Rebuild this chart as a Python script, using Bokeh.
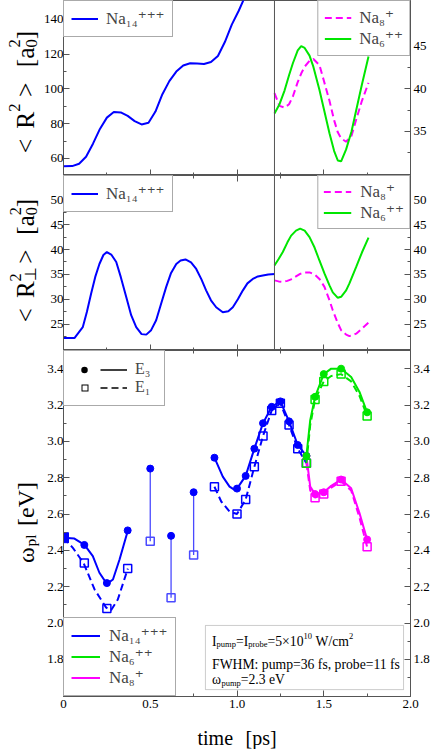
import numpy as np
from bokeh.plotting import figure
from bokeh.layouts import column, row
from bokeh.models import (Range1d, LinearAxis, FixedTicker, Span, Legend, LegendItem,
                          Label, BoxAnnotation, PrintfTickFormatter, CustomLabelingPolicy)
from bokeh.embed import file_html
from bokeh.resources import INLINE

FONT = "Liberation Serif"
LFONT = "Liberation Serif, DejaVu Serif"
FRAME = "#555555"
BLUE = "#0000ff"
GREEN = "#00e600"
MAGENTA = "#ff00ff"
STEM = "#4a4aff"

# ---------------- shared time axis ----------------
x_ticks = [0, 0.5, 1.0, 1.5, 2.0]
x_minor = [0.25, 0.75, 1.25, 1.75]
t_split = 1.216   # fission instant marked in the two upper panels

# ---------------- panel 1 : <R^2> ----------------
t_na14_r2 = [0, 0.05, 0.09, 0.13, 0.17, 0.21, 0.25, 0.29, 0.33, 0.37, 0.41, 0.45, 0.49,
             0.53, 0.57, 0.61, 0.65, 0.69, 0.73, 0.77, 0.81, 0.85, 0.89, 0.93, 0.97, 1.01, 1.05]
r2_na14 = [55.5, 55.6, 57.0, 61.0, 68.5, 77.0, 83.5, 86.7, 86.5, 84.5, 81.5, 79.6, 80.5,
           87.0, 97.0, 104.5, 110.0, 113.5, 114.8, 114.6, 114.4, 115.5, 119.0, 127.0, 137.0, 145.0, 154.0]
t_frag_r2 = [1.216, 1.245, 1.274, 1.30, 1.322, 1.35, 1.37, 1.39, 1.418, 1.44, 1.475, 1.50,
             1.533, 1.56, 1.581, 1.60, 1.629, 1.66, 1.687, 1.72, 1.758]
r2_na6 = [37.1, 38.2, 39.8, 41.6, 43.0, 44.5, 45.0, 44.8, 43.9, 42.6, 39.9, 37.7,
          34.8, 32.7, 31.6, 31.5, 32.9, 35.0, 37.5, 40.5, 43.8]
r2_na8 = [39.5, 38.0, 37.8, 38.2, 39.1, 40.8, 41.8, 42.6, 43.3, 43.5, 42.8, 41.0,
          38.6, 36.3, 34.9, 34.2, 33.8, 34.5, 36.4, 38.6, 40.7]
r2_left_ticks = [60, 80, 100, 120, 140]
r2_left_minor = [70, 90, 110, 130, 150]
r2_right_ticks = [35, 40, 45]
r2_right_minor = [32.5, 37.5, 42.5, 47.5]

# ---------------- panel 2 : <R_perp^2> ----------------
t_na14_rp = [0, 0.063, 0.111, 0.135, 0.159, 0.183, 0.207, 0.23, 0.25, 0.275, 0.304, 0.33,
             0.362, 0.39, 0.419, 0.45, 0.477, 0.505, 0.534, 0.56, 0.592, 0.62, 0.65, 0.675,
             0.703, 0.735, 0.765, 0.795, 0.822, 0.85, 0.88, 0.918, 0.95, 0.976, 1.005, 1.034,
             1.06, 1.091, 1.12, 1.149, 1.18, 1.218]
rp_na14 = [22.2, 22.2, 24.4, 27.5, 31.1, 34.5, 37.1, 38.9, 39.5, 39.0, 37.5, 34.5,
           30.4, 26.8, 24.4, 23.0, 22.9, 23.8, 25.8, 28.8, 32.5, 35.3, 37.1, 37.8,
           38.0, 37.4, 36.1, 34.0, 31.8, 29.8, 28.4, 27.4, 27.6, 28.4, 30.0, 31.8,
           33.2, 34.1, 34.6, 34.8, 35.0, 35.1]
t_frag_rp = [1.216, 1.24, 1.264, 1.29, 1.312, 1.34, 1.364, 1.39, 1.418, 1.447, 1.475, 1.504,
             1.533, 1.552, 1.581, 1.60, 1.629, 1.648, 1.687, 1.72, 1.758]
rp_na6 = [36.8, 38.1, 39.5, 41.4, 42.8, 43.8, 44.2, 43.8, 42.5, 40.4, 37.8, 35.2,
          32.8, 31.4, 30.3, 30.5, 31.8, 33.2, 36.5, 39.4, 42.4]
rp_na8 = [33.8, 33.6, 33.5, 33.7, 34.0, 34.6, 35.1, 35.4, 35.4, 35.0, 34.1, 32.5,
          29.8, 27.8, 25.2, 23.8, 22.9, 22.6, 23.1, 24.1, 25.3]
rp_ticks = [25, 30, 35, 40, 45, 50]
rp_minor = [22.5, 27.5, 32.5, 37.5, 42.5, 47.5, 52.5]

# ---------------- panel 3 : plasmon energies ----------------
w_ticks = [1.8, 2.0, 2.2, 2.4, 2.6, 2.8, 3.0, 3.2, 3.4]
w_minor = [1.7, 1.9, 2.1, 2.3, 2.5, 2.7, 2.9, 3.1, 3.3]

# Na14+++ first interval
t1 = [0.0, 0.12, 0.25, 0.37]
e3_1 = [2.47, 2.43, 2.22, 2.51]
e1_1 = [2.47, 2.33, 2.08, 2.30]
t1_fit_e3 = [0.0, 0.063, 0.121, 0.169, 0.207, 0.25, 0.285, 0.323, 0.371]
fit_e3_1 = [2.47, 2.465, 2.43, 2.368, 2.277, 2.216, 2.240, 2.350, 2.51]
t1_fit_e1 = [0.0, 0.054, 0.117, 0.179, 0.246, 0.275, 0.313, 0.371]
fit_e1_1 = [2.47, 2.414, 2.328, 2.185, 2.085, 2.072, 2.130, 2.30]

# isolated probes
t_single = [0.50, 0.62, 0.75]
e3_single = [2.85, 2.48, 2.72]
e1_single = [2.45, 2.14, 2.375]

# Na14+++ second interval
t2 = [0.87, 1.00, 1.05, 1.10, 1.15, 1.20, 1.25, 1.30, 1.35, 1.40]
e3_2 = [2.91, 2.74, 2.81, 2.96, 3.10, 3.19, 3.22, 3.11, 2.98, 2.92]
e1_2 = [2.75, 2.60, 2.68, 2.86, 3.03, 3.17, 3.21, 3.09, 2.96, 2.88]
t2_fit_e3 = [0.87, 0.918, 0.957, 0.986, 1.00, 1.05, 1.10, 1.15, 1.20, 1.25, 1.30, 1.35, 1.40]
fit_e3_2 = [2.91, 2.806, 2.751, 2.733, 2.74, 2.81, 2.96, 3.10, 3.19, 3.22, 3.11, 2.98, 2.92]
t2_fit_e1 = [0.87, 0.909, 0.957, 1.00, 1.05, 1.10, 1.15, 1.20, 1.25, 1.30, 1.35, 1.40]
fit_e1_2 = [2.75, 2.669, 2.614, 2.60, 2.68, 2.86, 3.03, 3.17, 3.21, 3.09, 2.96, 2.88]

# fragments
t_frag = [1.40, 1.45, 1.50, 1.60, 1.75]
e3_na6 = [2.92, 3.245, 3.37, 3.40, 3.16]
e1_na6 = [2.88, 3.23, 3.33, 3.37, 3.14]
e3_na8 = [2.92, 2.71, 2.72, 2.79, 2.46]
e1_na8 = [2.88, 2.69, 2.71, 2.78, 2.42]
t_frag_fit = [1.40, 1.422, 1.45, 1.50, 1.543, 1.60, 1.658, 1.706, 1.75]
fit_e3_na6 = [2.92, 3.117, 3.245, 3.37, 3.40, 3.40, 3.354, 3.272, 3.16]
fit_e1_na6 = [2.88, 3.09, 3.23, 3.33, 3.36, 3.37, 3.33, 3.25, 3.14]
fit_e3_na8 = [2.92, 2.751, 2.71, 2.72, 2.755, 2.79, 2.742, 2.605, 2.46]
fit_e1_na8 = [2.88, 2.73, 2.69, 2.71, 2.745, 2.78, 2.73, 2.58, 2.42]

LBL_NA14 = "Na₁₄⁺⁺⁺"
LBL_NA6 = "Na₆⁺⁺"
LBL_NA8 = "Na₈⁺"

# ---------------- helpers ----------------
W = {' ': 250, '<': 564, '>': 564, 'R': 667, '[': 333, ']': 333, 'a': 444, 'e': 444,
     'V': 722, 'p': 500, 's': 389, 't': 278, 'i': 278, 'm': 778, 'l': 278, 'u': 500,
     'r': 333, 'o': 500, 'b': 500, '=': 564, '×': 564, 'W': 944, '/': 278, 'c': 444,
     'F': 556, 'H': 722, 'M': 889, ':': 278, ',': 250, '.': 250, 'f': 333, 'I': 333,
     'ω': 686, '⊥': 700}
for d in "0123456789":
    W[d] = 500


def tw(s, size):
    return sum(W.get(ch, 500) for ch in s) * size / 1000.0


def rich_text(p, x, y, pieces, size, angle=0.0, align="left", sub_scale=0.65):
    items = []
    pos = 0.0
    i = 0
    while i < len(pieces):
        txt, kind = pieces[i]
        if kind == "gap":
            pos += txt * size
            i += 1
            continue
        if kind == "n":
            items.append((txt, pos, 0.0, size))
            pos += tw(txt, size)
            i += 1
            continue
        ss = size * sub_scale
        sh = -0.22 * size if kind == "sub" else 0.42 * size
        if kind == "sub" and i + 1 < len(pieces) and pieces[i + 1][1] == "sup":
            t2_ = pieces[i + 1][0]
            items.append((txt, pos, sh, ss))
            items.append((t2_, pos, 0.42 * size, ss))
            pos += max(tw(txt, ss), tw(t2_, ss))
            i += 2
            continue
        items.append((txt, pos, sh, ss))
        pos += tw(txt, ss)
        i += 1
    start = -pos / 2.0 if align == "center" else 0.0
    for txt, ps, sh, sz in items:
        along = start + ps
        if angle == 0:
            xo, yo = along, sh
        else:
            xo, yo = -sh, along
        p.add_layout(Label(x=x, y=y, x_offset=xo, y_offset=yo, text=txt, angle=angle,
                           text_align="left", text_baseline="alphabetic",
                           text_font=FONT, text_font_size=f"{sz:.1f}px", text_color="black"))


def style_axis(ax, labels=True, standoff=3):
    ax.axis_line_color = FRAME
    ax.major_tick_in = 6
    ax.major_tick_out = 0
    ax.minor_tick_in = 3
    ax.minor_tick_out = 0
    ax.major_tick_line_color = FRAME
    ax.minor_tick_line_color = FRAME
    ax.major_label_text_font = FONT
    ax.major_label_text_color = "black"
    if labels:
        ax.major_label_text_font_size = "13px"
        ax.major_label_standoff = standoff
    else:
        ax.major_label_text_font_size = "0px"
        ax.major_label_standoff = 0
        ax.major_label_policy = CustomLabelingPolicy(code="return []")


def add_axis(p, place, ticks, minor, labels=True, range_name="default", fmt=None,
             overrides=None, standoff=3):
    ax = LinearAxis(ticker=FixedTicker(ticks=ticks, minor_ticks=minor))
    if place in ("left", "right"):
        ax.y_range_name = range_name
    style_axis(ax, labels, standoff)
    if fmt:
        ax.formatter = PrintfTickFormatter(format=fmt)
    if overrides:
        ax.major_label_overrides = overrides
    p.add_layout(ax, place)
    return ax


TW = 40          # width of the column that holds the rotated axis titles
PW = 436 - TW    # width of each data figure


def mkfig(height, yr, bbot=0):
    p = figure(width=PW, height=height, x_range=Range1d(0, 2.0), y_range=Range1d(*yr),
               output_backend="svg", toolbar_location=None,
               x_axis_location=None, y_axis_location=None,
               min_border_left=63 - TW, min_border_right=26,
               min_border_top=0, min_border_bottom=bbot)
    p.outline_line_color = FRAME
    p.outline_line_width = 1
    p.grid.visible = False
    p.background_fill_color = "white"
    p.border_fill_color = "white"
    return p


def mk_blank(width, height, xr, yr):
    p = figure(width=width, height=height, x_range=Range1d(*xr), y_range=Range1d(*yr),
               output_backend="svg", toolbar_location=None,
               x_axis_location=None, y_axis_location=None,
               min_border_left=0, min_border_right=0, min_border_top=0, min_border_bottom=0)
    p.outline_line_color = None
    p.grid.visible = False
    p.background_fill_color = "white"
    p.border_fill_color = "white"
    return p


def mk_legend(items, loc, pad, gw, standoff, font="17px", spacing=0, gh=15):
    return Legend(items=items, location=loc, margin=0, padding=pad, spacing=spacing,
                  glyph_width=gw, glyph_height=gh, label_height=gh, label_standoff=standoff,
                  label_text_font=LFONT, label_text_font_size=font,
                  label_text_line_height=1.0,
                  border_line_color=FRAME, border_line_width=1,
                  background_fill_color="white", background_fill_alpha=1.0)


LSO = 0   # standoff of the left tick labels (keeps the frames at x = 63)

# ================= panel 1 =================
p1 = mkfig(175, (50.2, 150.9))
p1.extra_y_ranges = {"r": Range1d(29.84, 50.36)}
add_axis(p1, "left", r2_left_ticks, r2_left_minor, standoff=LSO)
add_axis(p1, "right", r2_right_ticks, r2_right_minor, range_name="r")
add_axis(p1, "below", x_ticks, x_minor, labels=False)
p1.add_layout(Span(location=t_split, dimension="height", line_color=FRAME, line_width=1))
r1a = p1.line(t_na14_r2, r2_na14, line_color=BLUE, line_width=2)
r1b = p1.line(t_frag_r2, r2_na8, line_color=MAGENTA, line_width=2, line_dash="7 4", y_range_name="r")
r1c = p1.line(t_frag_r2, r2_na6, line_color=GREEN, line_width=2, y_range_name="r")
p1.add_layout(mk_legend([LegendItem(label=LBL_NA14, renderers=[r1a])], "top_left", 7, 27, 8))
p1.add_layout(mk_legend([LegendItem(label=LBL_NA8, renderers=[r1b]),
                         LegendItem(label=LBL_NA6, renderers=[r1c])], "top_right", 6, 27, 8))

# ================= panel 2 =================
p2 = mkfig(175, (19.71, 54.88))
add_axis(p2, "left", rp_ticks, rp_minor, standoff=LSO)
add_axis(p2, "right", rp_ticks, rp_minor)
add_axis(p2, "above", x_ticks, x_minor, labels=False)
add_axis(p2, "below", x_ticks, x_minor, labels=False)
p2.add_layout(Span(location=t_split, dimension="height", line_color=FRAME, line_width=1))
r2a = p2.line(t_na14_rp, rp_na14, line_color=BLUE, line_width=2)
r2b = p2.line(t_frag_rp, rp_na8, line_color=MAGENTA, line_width=2, line_dash="7 4")
r2c = p2.line(t_frag_rp, rp_na6, line_color=GREEN, line_width=2)
p2.add_layout(mk_legend([LegendItem(label=LBL_NA14, renderers=[r2a])], "top_left", 7, 27, 8))
p2.add_layout(mk_legend([LegendItem(label=LBL_NA8, renderers=[r2b]),
                         LegendItem(label=LBL_NA6, renderers=[r2c])], "top_right", 5, 28, 9))

# ================= panel 3 =================
p3 = mkfig(368, (1.596, 3.5), bbot=22)
add_axis(p3, "left", w_ticks, w_minor, fmt="%.1f", standoff=LSO)
add_axis(p3, "right", w_ticks, w_minor, fmt="%.1f")
add_axis(p3, "above", x_ticks, x_minor, labels=False)
add_axis(p3, "below", x_ticks, x_minor, fmt="%.1f", overrides={0: "0"})

DASH = "7 4"
# isolated probe pairs
p3.segment(x0=t_single, y0=e1_single, x1=t_single, y1=e3_single, line_color=STEM, line_width=1.3)
p3.scatter(t_single, e1_single, marker="square", size=8, line_color=STEM, line_width=1.5, fill_alpha=0)
p3.scatter(t_single, e3_single, marker="circle", size=7, color=BLUE)

# Na14+++ fitted curves and points
rl14 = p3.line(t1_fit_e3, fit_e3_1, line_color=BLUE, line_width=2)
p3.line(t1_fit_e1, fit_e1_1, line_color=BLUE, line_width=2, line_dash=DASH)
p3.line(t2_fit_e3, fit_e3_2, line_color=BLUE, line_width=2)
p3.line(t2_fit_e1, fit_e1_2, line_color=BLUE, line_width=2, line_dash=DASH)
p3.scatter(t1[1:], e3_1[1:], marker="circle", size=7, color=BLUE)
p3.scatter(t1[1:], e1_1[1:], marker="square", size=8, line_color=BLUE, line_width=1.5, fill_alpha=0)
p3.scatter(t1[:1], e1_1[:1], marker="square", size=10, color=BLUE)
p3.scatter(t2, e3_2, marker="circle", size=7, color=BLUE)
p3.scatter(t2, e1_2, marker="square", size=8, line_color=BLUE, line_width=1.5, fill_alpha=0)

# Na8+
rl8 = p3.line(t_frag_fit, fit_e3_na8, line_color=MAGENTA, line_width=2)
p3.line(t_frag_fit, fit_e1_na8, line_color=MAGENTA, line_width=2, line_dash=DASH)
p3.scatter(t_frag, e3_na8, marker="circle", size=7, color=MAGENTA)
p3.scatter(t_frag, e1_na8, marker="square", size=8, line_color=MAGENTA, line_width=1.5, fill_alpha=0)
# Na6++
rl6 = p3.line(t_frag_fit, fit_e3_na6, line_color=GREEN, line_width=2)
p3.line(t_frag_fit, fit_e1_na6, line_color=GREEN, line_width=2, line_dash=DASH)
p3.scatter(t_frag, e3_na6, marker="circle", size=7, color=GREEN)
p3.scatter(t_frag, e1_na6, marker="square", size=8, line_color=GREEN, line_width=1.5, fill_alpha=0)

# legend key of the two modes: marker at the left and line at the right of each key,
# built from stand-in line renderers (no data) whose dash patterns place the parts
NAN = [float("nan")]
k_dot = p3.line(NAN, NAN, line_color="black", line_width=6.5, line_cap="round",
                line_dash="0 54", line_dash_offset=43)
k_solid = p3.line(NAN, NAN, line_color="black", line_width=1.5,
                  line_dash="27 27", line_dash_offset=27)
k_sq_out = p3.line(NAN, NAN, line_color="black", line_width=7,
                   line_dash="7 47", line_dash_offset=46)
k_sq_in = p3.line(NAN, NAN, line_color="white", line_width=5,
                  line_dash="5 49", line_dash_offset=45)
k_dash = p3.line(NAN, NAN, line_color="black", line_width=1.5,
                 line_dash="7 4 7 4 5 27", line_dash_offset=27)
p3.add_layout(mk_legend([LegendItem(label="E₃", renderers=[k_dot, k_solid]),
                         LegendItem(label="E₁", renderers=[k_sq_out, k_sq_in, k_dash])],
                        "top_left", 9, 54, 8, font="16px"))

p3.add_layout(mk_legend([LegendItem(label=LBL_NA14, renderers=[rl14]),
                         LegendItem(label=LBL_NA6, renderers=[rl6]),
                         LegendItem(label=LBL_NA8, renderers=[rl8])], "bottom_left", 7, 29, 9))

# parameter box
p3.add_layout(BoxAnnotation(left=0.818, right=1.960, top=1.987, bottom=1.634,
                            fill_color="white", fill_alpha=1.0, line_color=FRAME, line_width=1))
TB = 13.7
rich_text(p3, 0.856, 1.900,
          [("I", "n"), ("pump", "sub"), ("=I", "n"), ("probe", "sub"), ("=5×10", "n"),
           ("10", "sup"), (0.25, "gap"), ("W/cm", "n"), ("2", "sup")], TB, sub_scale=0.62)
rich_text(p3, 0.856, 1.772, [("FWHM: pump=36 fs, probe=11 fs", "n")], TB)
rich_text(p3, 0.856, 1.688, [("ω", "n"), ("pump", "sub"), ("=2.3 eV", "n")], TB, sub_scale=0.62)

# ================= axis titles (page-pixel coordinates) =================
H_MAIN = 175 + 175 + 368
tfig = mk_blank(TW, H_MAIN, (0, TW), (H_MAIN, 0))
TX = 25
rich_text(tfig, TX, 91.5,
          [("<", "n"), (0.4, "gap"), ("R", "n"), ("2", "sup"), (0.25, "gap"), (">", "n"),
           (0.6, "gap"), ("[a", "n"), ("0", "sub"), ("2", "sup"), ("]", "n")],
          25.5, angle=np.pi / 2, align="center")
rich_text(tfig, TX, 260,
          [("<", "n"), (0.4, "gap"), ("R", "n"), ("⊥", "sub"), ("2", "sup"), (0.25, "gap"),
           (">", "n"), (0.6, "gap"), ("[a", "n"), ("0", "sub"), ("2", "sup"), ("]", "n")],
          25, angle=np.pi / 2, align="center")
rich_text(tfig, TX, 522, [("ω", "n"), ("pl", "sub"), (0.35, "gap"), ("[eV]", "n")],
          24, angle=np.pi / 2, align="center")

xfig = mk_blank(436, 749 - H_MAIN, (0, 436), (749, H_MAIN))
rich_text(xfig, 197, 737.5, [("time", "n")], 20)
rich_text(xfig, 245, 737.5, [("[ps]", "n")], 20)

layout = column(row(tfig, column(p1, p2, p3, spacing=0), spacing=0), xfig, spacing=0)
open("out.html", "w").write(file_html(layout, INLINE))
